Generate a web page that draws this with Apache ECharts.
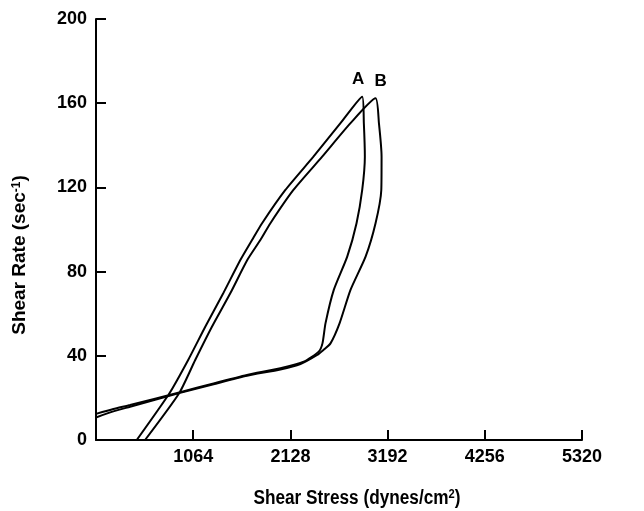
<!DOCTYPE html>
<html>
<head>
<meta charset="utf-8">
<script src="https://cdn.jsdelivr.net/npm/echarts@6/dist/echarts.min.js"></script>
<style>html,body{margin:0;padding:0;background:#fff}#c{width:644px;height:511px}</style>
</head>
<body>
<div id="c"></div>
<script>
// Curve A: up branch, down branch, then low line back to the axis
const stressA = [446, 804, 1009, 1196, 1393, 1580, 1708, 1818, 2073, 2380, 2676, 2914,
  2932, 2943, 2914, 2852, 2750, 2603, 2512, 2479, 2438,
  2274, 2018, 1653, 1287, 921, 373, 190, 0];
const rateA = [0, 22.2, 38.0, 53.8, 69.7, 85.5, 95.0, 103.0, 118.8, 134.6, 150.5, 163.1,
  150.5, 134.6, 118.8, 103.0, 87.1, 71.3, 55.4, 45.9, 42.0,
  37.2, 34.1, 30.9, 26.9, 22.7, 16.6, 14.7, 12.4];
const stressB = [537, 910, 1086, 1269, 1470, 1656, 1799, 1909, 2161, 2476, 2786, 3060,
  3097, 3126, 3123, 3060, 2951, 2786, 2666, 2567, 2490, 2421,
  2238, 2018, 1653, 1287, 921, 373, 190, 0];
const rateB = [0, 22.2, 38.0, 53.8, 69.7, 85.5, 95.0, 103.0, 118.8, 134.6, 150.5, 162.3,
  150.5, 134.6, 118.8, 103.0, 87.1, 71.3, 55.4, 45.9, 42.8, 40.4,
  36.1, 33.5, 30.5, 26.5, 22.4, 15.8, 13.6, 10.7];
const peakIndexA = 11;
const peakIndexB = 11;
const curveNames = ['A', 'B'];
const xTicks = [0, 1064, 2128, 3192, 4256, 5320];
const yTicks = [0, 40, 80, 120, 160, 200];
const xTitle = 'Shear Stress (dynes/cm';
const yTitle = 'Shear Rate (sec';

const FONT = '"Liberation Sans", Arial, sans-serif';

function series(xs, ys, peak, name, off) {
  return {
    name: name, type: 'line', showSymbol: false, symbol: 'none', smooth: 0.2,
    lineStyle: { color: '#000', width: 2 },
    data: xs.map((x, i) => [x, ys[i]]),
    markPoint: {
      symbol: 'circle', symbolSize: 1, itemStyle: { color: 'rgba(0,0,0,0)' },
      label: {
        show: true, formatter: name, position: 'top', distance: 8, offset: [off, 0],
        fontFamily: FONT, fontWeight: 'bold', fontSize: 17, color: '#000'
      },
      data: [{ coord: [xs[peak], ys[peak]] }]
    }
  };
}

const chart = echarts.init(document.getElementById('c'), null, { renderer: 'canvas' });
const axisLabelStyle = { fontFamily: FONT, fontWeight: 'bold', fontSize: 18, color: '#000' };
chart.setOption({
  backgroundColor: '#fff',
  animation: false,
  grid: { left: 96, right: 62, top: 19, bottom: 71, containLabel: false },
  xAxis: {
    type: 'value', min: xTicks[0], max: xTicks[xTicks.length - 1], interval: xTicks[1] - xTicks[0],
    axisLine: { lineStyle: { color: '#000', width: 2 } },
    axisTick: { inside: true, length: 10, lineStyle: { color: '#000', width: 2 } },
    axisLabel: Object.assign({ margin: 8, formatter: v => (v === 0 ? '' : String(v)) }, axisLabelStyle),
    splitLine: { show: false }
  },
  yAxis: {
    type: 'value', min: yTicks[0], max: yTicks[yTicks.length - 1], interval: yTicks[1] - yTicks[0],
    axisLine: { lineStyle: { color: '#000', width: 2 } },
    axisTick: { inside: true, length: 10, lineStyle: { color: '#000', width: 2 } },
    axisLabel: Object.assign({ margin: 9 }, axisLabelStyle),
    splitLine: { show: false }
  },
  series: [
    series(stressA, rateA, peakIndexA, curveNames[0], -4),
    series(stressB, rateB, peakIndexB, curveNames[1], 5)
  ],
  graphic: [
    {
      type: 'text', x: 357, y: 498, scaleX: 0.86,
      style: {
        x: 0, y: 0, text: '{a|' + xTitle + '}{s|2}{a|)}', align: 'center', verticalAlign: 'middle',
        rich: {
          a: { fontFamily: FONT, fontWeight: 'bold', fontSize: 20, color: '#000' },
          s: { fontFamily: FONT, fontWeight: 'bold', fontSize: 13, color: '#000', verticalAlign: 'top', padding: [0, 0, 7, 0] }
        }
      }
    },
    {
      type: 'text', x: 20, y: 255, rotation: Math.PI / 2,
      style: {
        x: 0, y: 0, text: '{a|' + yTitle + '}{s|-1}{a|)}', align: 'center', verticalAlign: 'middle',
        rich: {
          a: { fontFamily: FONT, fontWeight: 'bold', fontSize: 19, color: '#000' },
          s: { fontFamily: FONT, fontWeight: 'bold', fontSize: 12, color: '#000', verticalAlign: 'top', padding: [0, 0, 7, 0] }
        }
      }
    }
  ]
});
</script>
</body>
</html>
